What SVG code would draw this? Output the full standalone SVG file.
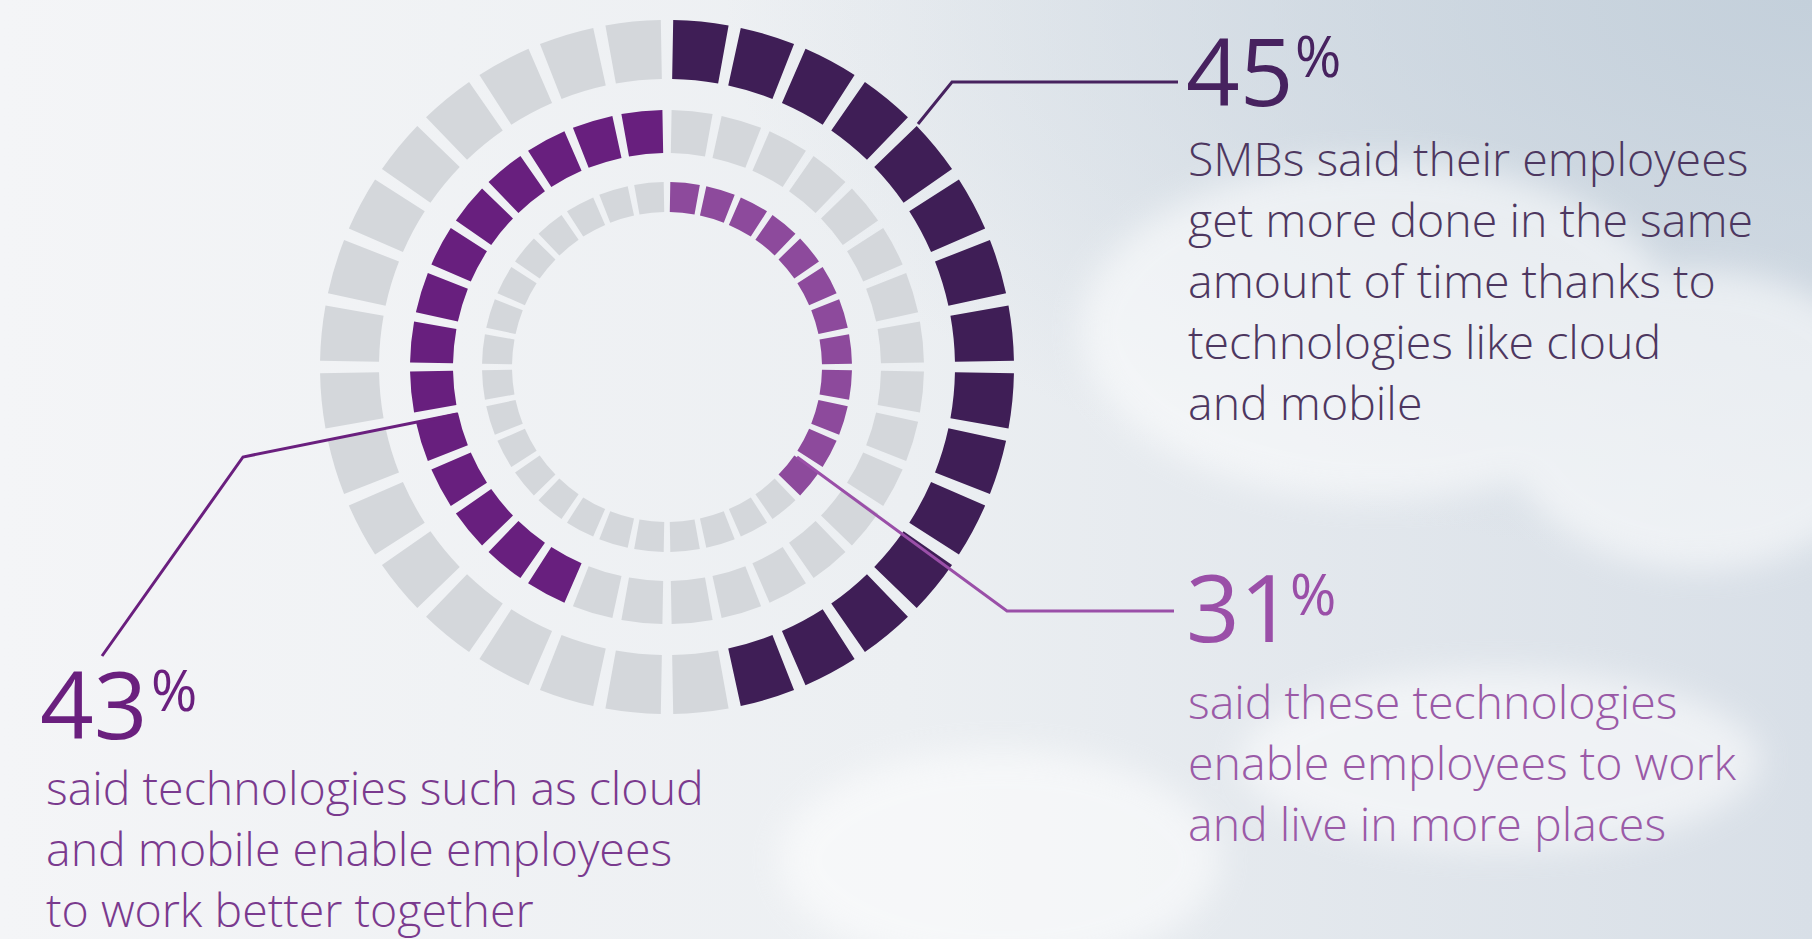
<svg xmlns="http://www.w3.org/2000/svg" width="1812" height="939" viewBox="0 0 1812 939">
<defs>
<linearGradient id="bg" x1="0" y1="0" x2="1" y2="0">
<stop offset="0" stop-color="#f4f5f7"/>
<stop offset="0.5" stop-color="#eceff2"/>
<stop offset="1" stop-color="#d8dfe7"/>
</linearGradient>
<radialGradient id="sky" cx="1" cy="0" r="0.6">
<stop offset="0" stop-color="#c4d0db"/>
<stop offset="1" stop-color="#c4d0db" stop-opacity="0"/>
</radialGradient>
<filter id="blur" x="-20%" y="-20%" width="140%" height="140%"><feGaussianBlur stdDeviation="16"/></filter>
<path id="so" d="M-27.83 -345.88 A347 347 0 0 1 27.83 -345.88 L23.1 -287.07 A288 288 0 0 0 -23.1 -287.07 Z"/>
<path id="sm" d="M-20.61 -256.17 A257 257 0 0 1 20.61 -256.17 L17.16 -213.31 A214 214 0 0 0 -17.16 -213.31 Z"/>
<path id="si" d="M-14.84 -184.4 A185 185 0 0 1 14.84 -184.4 L12.43 -154.5 A155 155 0 0 0 -12.43 -154.5 Z"/>
</defs>
<style>
.g{fill:#d4d7db}
.c45{fill:#3f1e56}
.c43{fill:#681f7e}
.c31{fill:#8d4a9c}
.num{font-family:"Open Sans","Noto Sans",sans-serif;font-weight:400}
.pct{font-family:"Open Sans","Noto Sans",sans-serif;font-weight:400;font-size:56px}
.body{font-family:"Open Sans","Noto Sans",sans-serif;font-weight:300;font-size:46.5px}
.conn{fill:none;stroke-width:3;stroke-linejoin:miter}
</style>
<rect width="1812" height="939" fill="url(#bg)"/>
<rect width="1812" height="939" fill="url(#sky)"/>
<g filter="url(#blur)" fill="#ffffff" opacity="0.55">
<ellipse cx="1380" cy="330" rx="300" ry="170"/>
<ellipse cx="1700" cy="420" rx="200" ry="150"/>
<ellipse cx="1000" cy="860" rx="220" ry="110"/>
<ellipse cx="1500" cy="760" rx="260" ry="90"/>
</g>

<g id="ring-outer" transform="translate(667 367)">
<use href="#so" class="c45" transform="rotate(5.625)"/>
<use href="#so" class="c45" transform="rotate(16.875)"/>
<use href="#so" class="c45" transform="rotate(28.125)"/>
<use href="#so" class="c45" transform="rotate(39.375)"/>
<use href="#so" class="c45" transform="rotate(50.625)"/>
<use href="#so" class="c45" transform="rotate(61.875)"/>
<use href="#so" class="c45" transform="rotate(73.125)"/>
<use href="#so" class="c45" transform="rotate(84.375)"/>
<use href="#so" class="c45" transform="rotate(95.625)"/>
<use href="#so" class="c45" transform="rotate(106.875)"/>
<use href="#so" class="c45" transform="rotate(118.125)"/>
<use href="#so" class="c45" transform="rotate(129.375)"/>
<use href="#so" class="c45" transform="rotate(140.625)"/>
<use href="#so" class="c45" transform="rotate(151.875)"/>
<use href="#so" class="c45" transform="rotate(163.125)"/>
<use href="#so" class="g" transform="rotate(174.375)"/>
<use href="#so" class="g" transform="rotate(185.625)"/>
<use href="#so" class="g" transform="rotate(196.875)"/>
<use href="#so" class="g" transform="rotate(208.125)"/>
<use href="#so" class="g" transform="rotate(219.375)"/>
<use href="#so" class="g" transform="rotate(230.625)"/>
<use href="#so" class="g" transform="rotate(241.875)"/>
<use href="#so" class="g" transform="rotate(253.125)"/>
<use href="#so" class="g" transform="rotate(264.375)"/>
<use href="#so" class="g" transform="rotate(275.625)"/>
<use href="#so" class="g" transform="rotate(286.875)"/>
<use href="#so" class="g" transform="rotate(298.125)"/>
<use href="#so" class="g" transform="rotate(309.375)"/>
<use href="#so" class="g" transform="rotate(320.625)"/>
<use href="#so" class="g" transform="rotate(331.875)"/>
<use href="#so" class="g" transform="rotate(343.125)"/>
<use href="#so" class="g" transform="rotate(354.375)"/>
</g>

<g id="ring-middle" transform="translate(667 367)">
<use href="#sm" class="g" transform="rotate(5.625)"/>
<use href="#sm" class="g" transform="rotate(16.875)"/>
<use href="#sm" class="g" transform="rotate(28.125)"/>
<use href="#sm" class="g" transform="rotate(39.375)"/>
<use href="#sm" class="g" transform="rotate(50.625)"/>
<use href="#sm" class="g" transform="rotate(61.875)"/>
<use href="#sm" class="g" transform="rotate(73.125)"/>
<use href="#sm" class="g" transform="rotate(84.375)"/>
<use href="#sm" class="g" transform="rotate(95.625)"/>
<use href="#sm" class="g" transform="rotate(106.875)"/>
<use href="#sm" class="g" transform="rotate(118.125)"/>
<use href="#sm" class="g" transform="rotate(129.375)"/>
<use href="#sm" class="g" transform="rotate(140.625)"/>
<use href="#sm" class="g" transform="rotate(151.875)"/>
<use href="#sm" class="g" transform="rotate(163.125)"/>
<use href="#sm" class="g" transform="rotate(174.375)"/>
<use href="#sm" class="g" transform="rotate(185.625)"/>
<use href="#sm" class="g" transform="rotate(196.875)"/>
<use href="#sm" class="c43" transform="rotate(208.125)"/>
<use href="#sm" class="c43" transform="rotate(219.375)"/>
<use href="#sm" class="c43" transform="rotate(230.625)"/>
<use href="#sm" class="c43" transform="rotate(241.875)"/>
<use href="#sm" class="c43" transform="rotate(253.125)"/>
<use href="#sm" class="c43" transform="rotate(264.375)"/>
<use href="#sm" class="c43" transform="rotate(275.625)"/>
<use href="#sm" class="c43" transform="rotate(286.875)"/>
<use href="#sm" class="c43" transform="rotate(298.125)"/>
<use href="#sm" class="c43" transform="rotate(309.375)"/>
<use href="#sm" class="c43" transform="rotate(320.625)"/>
<use href="#sm" class="c43" transform="rotate(331.875)"/>
<use href="#sm" class="c43" transform="rotate(343.125)"/>
<use href="#sm" class="c43" transform="rotate(354.375)"/>
</g>

<g id="ring-inner" transform="translate(667 367)">
<use href="#si" class="c31" transform="rotate(5.625)"/>
<use href="#si" class="c31" transform="rotate(16.875)"/>
<use href="#si" class="c31" transform="rotate(28.125)"/>
<use href="#si" class="c31" transform="rotate(39.375)"/>
<use href="#si" class="c31" transform="rotate(50.625)"/>
<use href="#si" class="c31" transform="rotate(61.875)"/>
<use href="#si" class="c31" transform="rotate(73.125)"/>
<use href="#si" class="c31" transform="rotate(84.375)"/>
<use href="#si" class="c31" transform="rotate(95.625)"/>
<use href="#si" class="c31" transform="rotate(106.875)"/>
<use href="#si" class="c31" transform="rotate(118.125)"/>
<use href="#si" class="c31" transform="rotate(129.375)"/>
<use href="#si" class="g" transform="rotate(140.625)"/>
<use href="#si" class="g" transform="rotate(151.875)"/>
<use href="#si" class="g" transform="rotate(163.125)"/>
<use href="#si" class="g" transform="rotate(174.375)"/>
<use href="#si" class="g" transform="rotate(185.625)"/>
<use href="#si" class="g" transform="rotate(196.875)"/>
<use href="#si" class="g" transform="rotate(208.125)"/>
<use href="#si" class="g" transform="rotate(219.375)"/>
<use href="#si" class="g" transform="rotate(230.625)"/>
<use href="#si" class="g" transform="rotate(241.875)"/>
<use href="#si" class="g" transform="rotate(253.125)"/>
<use href="#si" class="g" transform="rotate(264.375)"/>
<use href="#si" class="g" transform="rotate(275.625)"/>
<use href="#si" class="g" transform="rotate(286.875)"/>
<use href="#si" class="g" transform="rotate(298.125)"/>
<use href="#si" class="g" transform="rotate(309.375)"/>
<use href="#si" class="g" transform="rotate(320.625)"/>
<use href="#si" class="g" transform="rotate(331.875)"/>
<use href="#si" class="g" transform="rotate(343.125)"/>
<use href="#si" class="g" transform="rotate(354.375)"/>
</g>

<g id="connectors">
<path class="conn" stroke="#47225f" d="M918 124 L952 82 H1178"/>
<path class="conn" stroke="#6a1f7e" d="M457 414 L243 457 L102 656"/>
<path class="conn" stroke="#9a4fa8" d="M797 457 L1007 611 H1174"/>
</g>

<g id="callout-45">
<text class="num" x="1186" y="106" font-size="94" fill="#47225f">45</text>
<text class="pct" x="1295" y="77" fill="#47225f">%</text>
<text class="body" fill="#4d3760">
<tspan x="1188" y="176">SMBs said their employees</tspan>
<tspan x="1188" y="237">get more done in the same</tspan>
<tspan x="1188" y="298">amount of time thanks to</tspan>
<tspan x="1188" y="359">technologies like cloud</tspan>
<tspan x="1188" y="420">and mobile</tspan>
</text>
</g>

<g id="callout-43">
<text class="num" x="40" y="739" font-size="94" fill="#6a1f7e">43</text>
<text class="pct" x="151" y="711" fill="#6a1f7e">%</text>
<text class="body" fill="#7a3a8e">
<tspan x="46" y="805">said technologies such as cloud</tspan>
<tspan x="46" y="866">and mobile enable employees</tspan>
<tspan x="46" y="927">to work better together</tspan>
</text>
</g>

<g id="callout-31">
<text class="num" x="1186" y="642" font-size="94" fill="#9a4fa8">31</text>
<text class="pct" x="1290" y="615" fill="#9a4fa8">%</text>
<text class="body" fill="#9a5aa7">
<tspan x="1188" y="719">said these technologies</tspan>
<tspan x="1188" y="780">enable employees to work</tspan>
<tspan x="1188" y="841">and live in more places</tspan>
</text>
</g>
</svg>
